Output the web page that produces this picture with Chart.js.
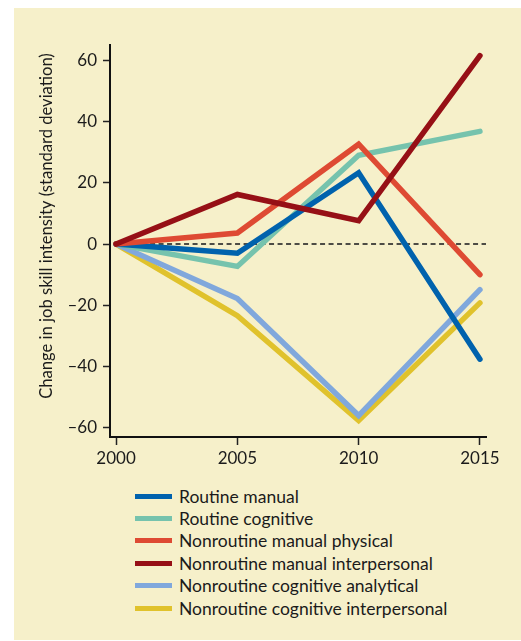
<!DOCTYPE html>
<html>
<head>
<meta charset="utf-8">
<script src="https://cdn.jsdelivr.net/npm/chart.js@4.4.1/dist/chart.umd.min.js"></script>
<style>
  body { margin: 0; background: #fff; font-family: Lato, "Open Sans", sans-serif; }
  .painel { position: absolute; left: 14px; top: 8px; width: 507px; height: 632px; background: #f6f0ca; }
  #grafico { position: absolute; left: 0; top: 0; }
  .legenda { position: absolute; left: 121px; top: 477px; margin: 0; padding: 0; list-style: none; }
  .legenda li { display: flex; align-items: center; height: 22.4px; font-size: 17.5px; color: #1b1b1b; white-space: nowrap; }
  .legenda span { display: inline-block; width: 37px; height: 5px; margin-right: 7px; }
</style>
</head>
<body>
<div class="painel">
  <canvas id="grafico" width="507" height="472"></canvas>
  <ul class="legenda" data-legenda></ul>
</div>
<script>
const anos = [2000, 2005, 2010, 2015];
const ticksY = [-60, -40, -20, 0, 20, 40, 60];

const series = [
  "Routine manual",
  "Routine cognitive",
  "Nonroutine manual physical",
  "Nonroutine manual interpersonal",
  "Nonroutine cognitive analytical",
  "Nonroutine cognitive interpersonal"
];
const rotinaManual = [0, -3, 23.3, -37.6];
const rotinaCognitiva = [0, -7.3, 29, 36.8];
const naoRotinaManualFisica = [0, 3.6, 32.6, -10];
const naoRotinaManualInterpessoal = [0, 16.2, 7.6, 61.5];
const naoRotinaCognitivaAnalitica = [0, -17.8, -56, -14.9];
const naoRotinaCognitivaInterpessoal = [0, -23.4, -57.6, -19.2];

const valores = [rotinaManual, rotinaCognitiva, naoRotinaManualFisica, naoRotinaManualInterpessoal, naoRotinaCognitivaAnalitica, naoRotinaCognitivaInterpessoal];
const cores = ["#0062ad", "#76c3ad", "#de4a33", "#961016", "#80a8dc", "#e0c22c"];
// ordem de desenho: menor valor fica por cima
const ordens = [2, 3, 1, 0, 4, 5];

const fonte = { family: "Lato, 'Open Sans', sans-serif", size: 17 };

// linha tracejada no zero, por baixo das séries
const linhaZero = {
  id: "linhaZero",
  beforeDatasetsDraw(chart) {
    const { ctx, chartArea, scales: { x, y } } = chart;
    const py = y.getPixelForValue(0);
    ctx.save();
    ctx.strokeStyle = "#4d4c45";
    ctx.lineWidth = 2;
    ctx.setLineDash([5, 3.5]);
    ctx.beginPath();
    ctx.moveTo(x.getPixelForValue(anos[0]), py);
    ctx.lineTo(chartArea.right, py);
    ctx.stroke();
    ctx.restore();
  }
};

// título do eixo y
const tituloY = {
  id: "tituloY",
  afterDraw(chart) {
    const { ctx } = chart;
    ctx.save();
    ctx.translate(33, 218);
    ctx.rotate(-Math.PI / 2);
    ctx.font = "16.6px Lato, 'Open Sans', sans-serif";
    ctx.fillStyle = "#1b1b1b";
    ctx.textAlign = "center";
    ctx.textBaseline = "middle";
    ctx.fillText("Change in job skill intensity (standard deviation)", 0, 0);
    ctx.restore();
  }
};

new Chart(document.getElementById("grafico"), {
  type: "line",
  data: {
    datasets: series.map((nome, i) => ({
      label: nome,
      data: anos.map((ano, j) => ({ x: ano, y: valores[i][j] })),
      borderColor: cores[i],
      borderWidth: 5.5,
      borderCapStyle: "round",
      borderJoinStyle: "miter",
      pointRadius: 0,
      tension: 0,
      order: ordens[i]
    }))
  },
  options: {
    responsive: false,
    animation: false,
    layout: { padding: { left: 0, right: 35, top: 37, bottom: 0 } },
    plugins: { legend: { display: false }, tooltip: { enabled: false } },
    scales: {
      x: {
        type: "linear",
        min: 1999.75,
        max: 2015.25,
        afterBuildTicks: (eixo) => { eixo.ticks = anos.map((v) => ({ value: v })); },
        afterFit: (eixo) => { eixo.height = 43; },
        border: { display: true, color: "#111", width: 2 },
        grid: { drawOnChartArea: false, drawTicks: true, tickLength: 8, tickColor: "#222", tickWidth: 1.5 },
        ticks: { font: fonte, color: "#1b1b1b", padding: 3, maxRotation: 0, callback: (v) => String(v) }
      },
      y: {
        min: -63,
        max: 65,
        afterBuildTicks: (eixo) => { eixo.ticks = ticksY.map((v) => ({ value: v })); },
        afterFit: (eixo) => { eixo.width = 96; },
        border: { display: true, color: "#111", width: 2 },
        grid: { drawOnChartArea: false, drawTicks: true, tickLength: 7, tickColor: "#222", tickWidth: 1.5 },
        ticks: { font: fonte, color: "#1b1b1b", padding: 6, callback: (v) => (v < 0 ? "\u2013" + Math.abs(v) : String(v)) }
      }
    }
  },
  plugins: [linhaZero, tituloY]
});

document.querySelector("[data-legenda]").innerHTML = series
  .map((nome, i) => `<li><span style="background:${cores[i]}"></span>${nome}</li>`)
  .join("");
</script>
</body>
</html>
